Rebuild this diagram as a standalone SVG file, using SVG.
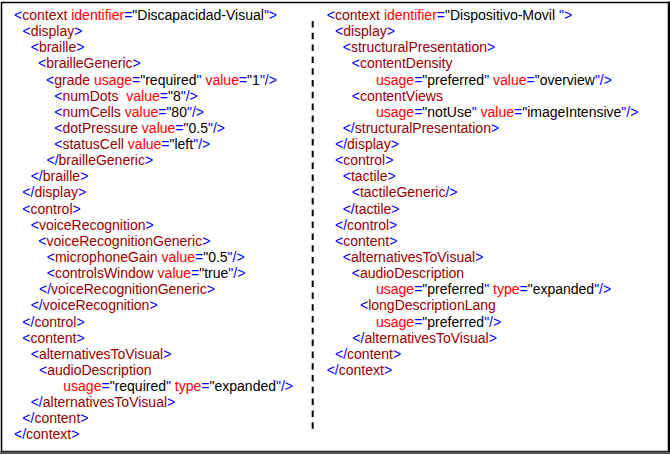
<svg xmlns="http://www.w3.org/2000/svg" width="670" height="454" viewBox="0 0 670 454">
<style>
text{font-family:"Liberation Sans",Arial,sans-serif;font-size:14px;white-space:pre;fill:#000}
.b{fill:#0000FF}.r{fill:#990000}.a{fill:#FF0000}.k{fill:#000}
</style>
<rect x="0" y="0" width="670" height="454" fill="#fff"/>
<rect x="1.5" y="2.5" width="667" height="449" fill="none" stroke="#000" stroke-width="1.5"/>
<line x1="669" y1="1.5" x2="669" y2="452" stroke="#000" stroke-width="2"/>
<rect x="0" y="451.5" width="670" height="2.5" fill="#555"/>
<g id="divider">
<line x1="312.7" y1="21" x2="312.7" y2="432" stroke="#000" stroke-width="2" stroke-dasharray="6.5 5.3"/>
</g>
<g id="left" xml:space="preserve">
<text x="14" y="20"><tspan class="b">&lt;</tspan><tspan class="r">context</tspan><tspan class="a"> identifier</tspan><tspan class="b">=</tspan>"Discapacidad-Visual<tspan class="b">"&gt;</tspan></text>
<text x="22.5" y="36.1"><tspan class="b">&lt;</tspan><tspan class="r">display</tspan><tspan class="b">&gt;</tspan></text>
<text x="30.7" y="52.3"><tspan class="b">&lt;</tspan><tspan class="r">braille</tspan><tspan class="b">&gt;</tspan></text>
<text x="38" y="68.4"><tspan class="b">&lt;</tspan><tspan class="r">brailleGeneric</tspan><tspan class="b">&gt;</tspan></text>
<text x="46" y="84.5"><tspan class="b">&lt;</tspan><tspan class="r">grade</tspan><tspan class="a"> usage</tspan><tspan class="b">=</tspan>"required<tspan class="b">"</tspan><tspan class="a"> value</tspan><tspan class="b">=</tspan>"1<tspan class="b">"/&gt;</tspan></text>
<text x="54.3" y="100.7"><tspan class="b">&lt;</tspan><tspan class="r">numDots </tspan><tspan class="a"> value</tspan><tspan class="b">=</tspan>"8<tspan class="b">"/&gt;</tspan></text>
<text x="54.3" y="116.8"><tspan class="b">&lt;</tspan><tspan class="r">numCells</tspan><tspan class="a"> value</tspan><tspan class="b">=</tspan>"80<tspan class="b">"/&gt;</tspan></text>
<text x="54.3" y="132.9"><tspan class="b">&lt;</tspan><tspan class="r">dotPressure</tspan><tspan class="a"> value</tspan><tspan class="b">=</tspan>"0.5<tspan class="b">"/&gt;</tspan></text>
<text x="54.3" y="149"><tspan class="b">&lt;</tspan><tspan class="r">statusCell</tspan><tspan class="a"> value</tspan><tspan class="b">=</tspan>"left<tspan class="b">"/&gt;</tspan></text>
<text x="46.5" y="165.2"><tspan class="b">&lt;/</tspan><tspan class="r">brailleGeneric</tspan><tspan class="b">&gt;</tspan></text>
<text x="30.7" y="181.3"><tspan class="b">&lt;/</tspan><tspan class="r">braille</tspan><tspan class="b">&gt;</tspan></text>
<text x="22.3" y="197.4"><tspan class="b">&lt;/</tspan><tspan class="r">display</tspan><tspan class="b">&gt;</tspan></text>
<text x="22.3" y="213.6"><tspan class="b">&lt;</tspan><tspan class="r">control</tspan><tspan class="b">&gt;</tspan></text>
<text x="30.7" y="229.7"><tspan class="b">&lt;</tspan><tspan class="r">voiceRecognition</tspan><tspan class="b">&gt;</tspan></text>
<text x="38.3" y="245.8"><tspan class="b">&lt;</tspan><tspan class="r">voiceRecognitionGeneric</tspan><tspan class="b">&gt;</tspan></text>
<text x="46.7" y="262"><tspan class="b">&lt;</tspan><tspan class="r">microphoneGain</tspan><tspan class="a"> value</tspan><tspan class="b">=</tspan>"0.5<tspan class="b">"/&gt;</tspan></text>
<text x="46.7" y="278.1"><tspan class="b">&lt;</tspan><tspan class="r">controlsWindow</tspan><tspan class="a"> value</tspan><tspan class="b">=</tspan>"true<tspan class="b">"/&gt;</tspan></text>
<text x="39" y="294.2"><tspan class="b">&lt;/</tspan><tspan class="r">voiceRecognitionGeneric</tspan><tspan class="b">&gt;</tspan></text>
<text x="30.7" y="310.3"><tspan class="b">&lt;/</tspan><tspan class="r">voiceRecognition</tspan><tspan class="b">&gt;</tspan></text>
<text x="22.3" y="326.5"><tspan class="b">&lt;/</tspan><tspan class="r">control</tspan><tspan class="b">&gt;</tspan></text>
<text x="22.3" y="342.6"><tspan class="b">&lt;</tspan><tspan class="r">content</tspan><tspan class="b">&gt;</tspan></text>
<text x="30.7" y="358.7"><tspan class="b">&lt;</tspan><tspan class="r">alternativesToVisual</tspan><tspan class="b">&gt;</tspan></text>
<text x="39" y="374.9"><tspan class="b">&lt;</tspan><tspan class="r">audioDescription</tspan></text>
<text x="63.3" y="391"><tspan class="a">usage</tspan><tspan class="b">=</tspan>"required<tspan class="b">"</tspan><tspan class="a"> type</tspan><tspan class="b">=</tspan>"expanded<tspan class="b">"/&gt;</tspan></text>
<text x="30.7" y="407.1"><tspan class="b">&lt;/</tspan><tspan class="r">alternativesToVisual</tspan><tspan class="b">&gt;</tspan></text>
<text x="22.3" y="423.3"><tspan class="b">&lt;/</tspan><tspan class="r">content</tspan><tspan class="b">&gt;</tspan></text>
<text x="14" y="439.4"><tspan class="b">&lt;/</tspan><tspan class="r">context</tspan><tspan class="b">&gt;</tspan></text>
</g>
<g id="right" xml:space="preserve">
<text x="326.7" y="20"><tspan class="b">&lt;</tspan><tspan class="r">context</tspan><tspan class="a"> identifier</tspan><tspan class="b">=</tspan>"Dispositivo-Movil <tspan class="b">"&gt;</tspan></text>
<text x="335" y="36.1"><tspan class="b">&lt;</tspan><tspan class="r">display</tspan><tspan class="b">&gt;</tspan></text>
<text x="342.7" y="52.3"><tspan class="b">&lt;</tspan><tspan class="r">structuralPresentation</tspan><tspan class="b">&gt;</tspan></text>
<text x="351.7" y="68.4"><tspan class="b">&lt;</tspan><tspan class="r">contentDensity</tspan></text>
<text x="376" y="84.5"><tspan class="a">usage</tspan><tspan class="b">=</tspan>"preferred<tspan class="b">"</tspan><tspan class="a"> value</tspan><tspan class="b">=</tspan>"overview<tspan class="b">"/&gt;</tspan></text>
<text x="351.7" y="100.7"><tspan class="b">&lt;</tspan><tspan class="r">contentViews</tspan></text>
<text x="376" y="116.8"><tspan class="a">usage</tspan><tspan class="b">=</tspan>"notUse<tspan class="b">"</tspan><tspan class="a"> value</tspan><tspan class="b">=</tspan>"imageIntensive<tspan class="b">"/&gt;</tspan></text>
<text x="342.7" y="132.9"><tspan class="b">&lt;/</tspan><tspan class="r">structuralPresentation</tspan><tspan class="b">&gt;</tspan></text>
<text x="335" y="149"><tspan class="b">&lt;/</tspan><tspan class="r">display</tspan><tspan class="b">&gt;</tspan></text>
<text x="335" y="165.2"><tspan class="b">&lt;</tspan><tspan class="r">control</tspan><tspan class="b">&gt;</tspan></text>
<text x="342.7" y="181.3"><tspan class="b">&lt;</tspan><tspan class="r">tactile</tspan><tspan class="b">&gt;</tspan></text>
<text x="351.7" y="197.4"><tspan class="b">&lt;</tspan><tspan class="r">tactileGeneric</tspan><tspan class="b">/&gt;</tspan></text>
<text x="342.7" y="213.6"><tspan class="b">&lt;/</tspan><tspan class="r">tactile</tspan><tspan class="b">&gt;</tspan></text>
<text x="335" y="229.7"><tspan class="b">&lt;/</tspan><tspan class="r">control</tspan><tspan class="b">&gt;</tspan></text>
<text x="335" y="245.8"><tspan class="b">&lt;</tspan><tspan class="r">content</tspan><tspan class="b">&gt;</tspan></text>
<text x="342.7" y="262"><tspan class="b">&lt;</tspan><tspan class="r">alternativesToVisual</tspan><tspan class="b">&gt;</tspan></text>
<text x="351.7" y="278.1"><tspan class="b">&lt;</tspan><tspan class="r">audioDescription</tspan></text>
<text x="376" y="294.2"><tspan class="a">usage</tspan><tspan class="b">=</tspan>"preferred<tspan class="b">"</tspan><tspan class="a"> type</tspan><tspan class="b">=</tspan>"expanded<tspan class="b">"/&gt;</tspan></text>
<text x="360" y="310.3"><tspan class="b">&lt;</tspan><tspan class="r">longDescriptionLang</tspan></text>
<text x="376" y="326.5"><tspan class="a">usage</tspan><tspan class="b">=</tspan>"preferred<tspan class="b">"/&gt;</tspan></text>
<text x="352.3" y="342.6"><tspan class="b">&lt;/</tspan><tspan class="r">alternativesToVisual</tspan><tspan class="b">&gt;</tspan></text>
<text x="335" y="358.7"><tspan class="b">&lt;/</tspan><tspan class="r">content</tspan><tspan class="b">&gt;</tspan></text>
<text x="326.7" y="374.9"><tspan class="b">&lt;/</tspan><tspan class="r">context</tspan><tspan class="b">&gt;</tspan></text>
</g>
</svg>
